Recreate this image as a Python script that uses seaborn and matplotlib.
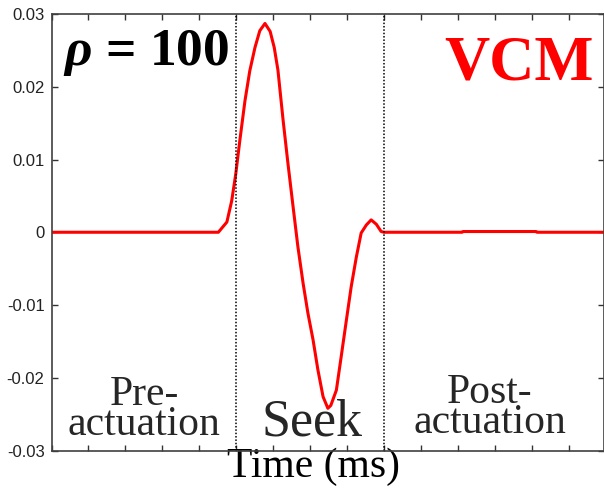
import matplotlib
matplotlib.use("Agg")
import matplotlib.pyplot as plt
import seaborn as sns
import pandas as pd

# ---- data ----
time_ms = [0.0, 1.0, 2.0, 3.0, 4.0, 4.51, 4.74, 4.87, 4.98, 5.09, 5.23, 5.36, 5.50,
           5.63, 5.77, 5.91, 6.02, 6.12, 6.26, 6.39, 6.53, 6.66, 6.80, 6.93, 7.07,
           7.20, 7.34, 7.47, 7.55, 7.70, 7.83, 7.97, 8.10, 8.24, 8.37, 8.51, 8.64,
           8.78, 8.91, 8.99, 11.1, 11.12, 13.1, 13.12, 14.92]
vcm_signal = [0.0, 0.0, 0.0, 0.0, 0.0, 0.0, 0.0014, 0.0043, 0.0080, 0.0126, 0.0181,
              0.0222, 0.0254, 0.0277, 0.0287, 0.0276, 0.0254, 0.0223, 0.0154, 0.0095,
              0.0035, -0.0020, -0.0070, -0.0111, -0.0148, -0.0189, -0.0226, -0.0242,
              -0.0238, -0.0217, -0.0171, -0.0121, -0.0075, -0.0034, -0.0001, 0.0010,
              0.0017, 0.0011, 0.0001, 0.0, 0.0, 0.0001, 0.0001, 0.0, 0.0]
phase_bounds = [5, 9]
y_ticks = [-0.03, -0.02, -0.01, 0, 0.01, 0.02, 0.03]
y_tick_labels = ["-0.03", "-0.02", "-0.01", "0", "0.01", "0.02", "0.03"]
x_ticks = list(range(0, 15))

df = pd.DataFrame({"t": time_ms, "v": vcm_signal})

sns.set_style("white")
plt.rcParams["axes.unicode_minus"] = False
plt.rcParams["mathtext.fontset"] = "custom"
plt.rcParams["mathtext.it"] = "Liberation Serif:italic:bold"
plt.rcParams["mathtext.rm"] = "Liberation Serif:bold"

fig = plt.figure(figsize=(6.04, 4.93), dpi=100)
W, H = 604, 493
L, R, T, B = 51.5, 603.5, 14, 450.5
ax = fig.add_axes([L / W, 1 - B / H, (R - L) / W, (B - T) / H])

sns.lineplot(data=df, x="t", y="v", color="red", lw=2.2, ax=ax)

for b in phase_bounds:
    ax.axvline(b, color="black", ls=(0, (1, 1.2)), lw=1.1)

ax.set_xlim(0, 14.92)
ax.set_ylim(-0.03, 0.03)
ax.set_xticks(x_ticks)
ax.set_xticklabels([])
ax.set_yticks(y_ticks)
ax.set_yticklabels(y_tick_labels, fontfamily="Liberation Sans", fontsize=12, color="#222222")
ax.tick_params(direction="in", length=4, width=1, color="#333333",
               top=True, right=True, bottom=True, left=True, pad=5)
for s in ax.spines.values():
    s.set_color("#404040")
    s.set_linewidth(1.2)
    s.set_visible(True)

ax.set_ylabel("")
ax.set_xlabel("Time (ms)", fontfamily="Liberation Serif", fontsize=30, color="black")
ax.xaxis.label.set_va("baseline")
ax.xaxis.set_label_coords(0.4746, -0.0607)

serif = "Liberation Serif"
ax.text(0.31, 0.0230, r"$\rho$ = 100", fontfamily=serif, fontweight="bold",
        fontsize=38.5, ha="left", va="baseline", color="black")
ax.text(14.64, 0.02095, "VCM", fontfamily=serif, fontweight="bold",
        fontsize=45, ha="right", va="baseline", color="red")
ax.text(2.5, -0.02376, "Pre-", fontfamily=serif, fontsize=30, ha="center", va="baseline")
ax.text(2.5, -0.0279, "actuation", fontfamily=serif, fontsize=30, ha="center", va="baseline")
ax.text(7.03, -0.0279, "Seek", fontfamily=serif, fontsize=37.5, ha="center", va="baseline")
ax.text(11.85, -0.02348, "Post-", fontfamily=serif, fontsize=30, ha="center", va="baseline")
ax.text(11.85, -0.0276, "actuation", fontfamily=serif, fontsize=30, ha="center", va="baseline")

fig.savefig("out.png", dpi=100)
